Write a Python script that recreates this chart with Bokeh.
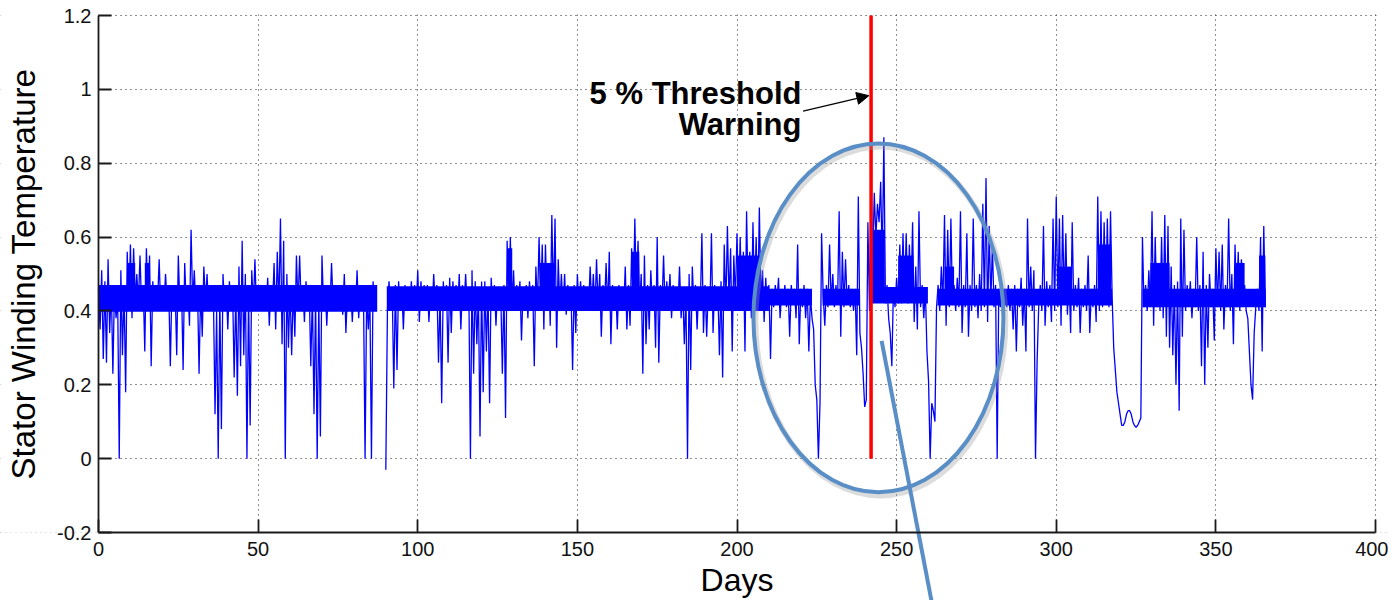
import math
from bokeh.plotting import figure
from bokeh.models import FixedTicker, Arrow, NormalHead, Label, Range1d, ColumnDataSource
from bokeh.embed import file_html
from bokeh.resources import INLINE

nan = float("nan")

# twice-daily readings (day d and day d + 0.5)
days = list(range(366))
temp_00h = [
    .46, .51, .48, .54, .47, .46, .44, .51, .46, .56,
    .58, .57, .50, .55, .47, .57, .55, .48, .47, .54,
    .47, .50, .46, .47, .46, .55, .47, .53, .47, .62,
    .51, .47, .46, .52, .50, .45, .44, .40, .44, .50,
    .47, .48, .46, .45, .52, .59, .50, .45, .51, .54,
    .47, .46, .47, .49, .47, .53, .56, .65, .59, .50,
    .47, .46, .55, .55, .47, .48, .46, .45, .44, .43,
    .55, .47, .46, .53, .47, .46, .47, .50, .46, .47,
    .46, .51, .46, .45, .45, .44, .48, .46, nan, nan,
    -.03, .48, .46, .47, .48, .46, .47, .46, .48, .47,
    .51, .48, .47, .47, .46, .50, .47, .44, .48, .47,
    .49, .48, .47, .50, .47, .50, .46, .51, .48, .45,
    .48, .48, .46, .49, .47, .46, .45, .47, .59, .60,
    .51, .47, .48, .46, .47, .48, .47, .52, .60, .58,
    .58, .53, .66, .65, .54, .50, .50, .47, .46, .47,
    .50, .48, .47, .46, .52, .50, .54, .50, .47, .53,
    .56, .47, .46, .47, .46, .52, .47, .57, .65, .59,
    .50, .55, .47, .51, .47, .60, .47, .55, .48, .50,
    .47, .46, .52, .46, .45, .50, .52, .47, .46, .61,
    .47, .46, .61, .47, .46, .48, .58, .63, .57, .55,
    .61, .60, .56, .67, .56, .64, .60, .68, .51, .49,
    .47, .46, .47, .49, .46, .47, .46, .47, .46, .58,
    .46, .47, .46, .44, .35, .16, .15, .44, .47, .58,
    .50, .47, .67, .56, .54, .47, .46, .46, .71, .30,
    .14, .64, .74, .72, .69, .75, .87, .47, .34, .46,
    .49, .58, .61, .61, .58, .64, .52, .67, .47, .46,
    .21, .15, .10, .47, .52, .66, .62, .65, .47, .49,
    .67, .47, .61, .47, .65, .47, .50, .69, .76, .63,
    .58, .47, .46, .47, .46, .47, .46, .47, .46, .49,
    .46, .65, .52, .51, .26, .47, .63, .48, .47, .65,
    .71, .65, .66, .61, .50, .64, .47, .49, .46, .47,
    .55, .46, .47, .71, .67, .64, .65, .67, .30, .18,
    .12, .09, .12, .13, .10, .085, .10, .60, .47, .51,
    .67, .60, .53, .60, .66, .63, .52, .47, .48, .65,
    .62, .47, .48, .46, .60, .47, .56, .47, .50, .46,
    .57, .56, .58, .47, .65, .50, .58, .56, .54, .47,
    .38, .20, .34, .46, .60, .63,
]
temp_12h = [
    .35, .27, .26, .34, .23, .38, .00, .28, .18, .41,
    .38, .43, .42, .41, .29, .42, .25, .41, .42, .40,
    .41, .42, .25, .41, .28, .41, .24, .41, .36, .42,
    .41, .23, .33, .42, .40, .40, .12, .00, .08, .40,
    .35, .41, .22, .17, .25, .28, .00, .09, .41, .40,
    .40, .41, .40, .36, .41, .35, .41, .31, .00, .30,
    .28, .33, .41, .41, .37, .41, .25, .12, .00, .06,
    .41, .36, .41, .41, .40, .41, .39, .34, .40, .37,
    .40, .38, .41, .00, .35, .00, .41, nan, nan, nan,
    .40, .41, .19, .24, .40, .35, .40, .41, .40, .40,
    .37, .41, .40, .37, .40, .41, .26, .15, .41, .26,
    .34, .41, .40, .35, .41, .41, .00, .23, .31, .06,
    .18, .29, .15, .41, .36, .41, .23, .11, .41, .42,
    .40, .41, .32, .41, .38, .41, .25, .41, .42, .35,
    .42, .36, .42, .30, .41, .40, .39, .41, .24, .34,
    .41, .40, .41, .40, .41, .40, .41, .33, .41, .40,
    .31, .40, .35, .41, .40, .35, .36, .41, .42, .41,
    .23, .31, .35, .41, .30, .26, .41, .40, .41, .38,
    .40, .41, .38, .31, .00, .24, .41, .35, .41, .34,
    .33, .40, .34, .40, .28, .22, .41, .42, .29, .43,
    .42, .41, .29, .43, .38, .42, .40, .43, .37, .40,
    .27, .41, .42, .38, .42, .41, .33, .42, .38, .31,
    .41, .38, .29, .38, .20, .00, .61, .36, .41, .42,
    .41, .42, .33, .41, .42, .41, .40, .28, .34, .23,
    .16, .40, .53, .60, .64, .53, .42, .38, .25, .41,
    .42, .42, .43, .42, .43, .37, .35, .41, .38, .29,
    .00, .13, .41, .40, .42, .36, .41, .42, .40, .41,
    .34, .41, .33, .40, .41, .38, .40, .41, .37, .42,
    .41, .00, .41, .40, .41, .40, .35, .29, .41, .36,
    .29, .41, .40, .00, .41, .40, .36, .41, .37, .40,
    .41, .36, .42, .39, .34, .40, .41, .34, .41, .40,
    .34, .41, .37, .40, .41, .42, .41, .44, .24, .15,
    .09, .10, .13, .12, .09, .09, .11, .41, .40, .41,
    .36, .41, .40, .38, .33, .30, .28, .20, .13, .33,
    .40, .41, .38, .41, .40, .25, .20, .30, .41, .32,
    .41, .40, .35, .41, .40, .31, .41, .40, .43, .40,
    .29, .16, .41, .40, .29, .41,
]

# dense hourly fluctuation band (start day, end day, low, high)
band_start = [0.0, 90.3, 210.0, 226.8, 241.5, 262.8, 327.0,
              9.0, 14.5, 128.2, 138.2, 167.0, 200.0, 242.2, 250.5, 265.0,
              300.7, 313.0, 329.5, 356.0, 363.5]
band_end = [87.3, 210.0, 223.5, 238.5, 259.8, 317.5, 365.6,
            11.5, 16.0, 129.6, 143.0, 169.4, 207.5, 246.3, 255.2, 268.0,
            305.0, 317.2, 335.5, 359.0, 365.5]
band_lo = [.398, .40, .415, .415, .42, .415, .41,
           .42, .42, .45, .43, .44, .42, .45, .43, .42,
           .42, .42, .42, .45, .42]
band_hi = [.47, .467, .46, .46, .465, .46, .46,
           .53, .53, .57, .53, .56, .55, .62, .55, .52,
           .52, .58, .53, .53, .55]

x_ticks = [0, 50, 100, 150, 200, 250, 300, 350, 400]
y_ticks = [-0.2, 0, 0.2, 0.4, 0.6, 0.8, 1.0, 1.2]
y_tick_labels = ["-0.2", "0", "0.2", "0.4", "0.6", "0.8", "1", "1.2"]

warning_day = 242
warning_span = [0.0, 1.2]
warning_text = ["5 % Threshold", "Warning"]

xs, ys = [], []
for d, a, b in zip(days, temp_00h, temp_12h):
    xs += [d, d + 0.5]
    ys += [a, b]

FONT = "Liberation Sans"
W, H = 1388, 600
X0PX, X400PX, Y12PX = 98, 1375, 15
ppd = (X400PX - X0PX) / 400.0          # pixels per day
ppu = 517 / 1.4                         # pixels per unit
x_lo, x_hi = -X0PX / ppd, (W - X0PX) / ppd
y_hi, y_lo = 1.2 + Y12PX / ppu, 1.2 - (H - Y12PX) / ppu

p = figure(width=W, height=H, x_range=Range1d(x_lo, x_hi), y_range=Range1d(y_lo, y_hi),
           output_backend="svg", toolbar_location=None,
           min_border_left=0, min_border_right=0, min_border_top=0, min_border_bottom=0)
p.outline_line_color = None
p.background_fill_color = "white"
p.border_fill_color = "white"

for ax in (p.xaxis, p.yaxis):
    ax.axis_line_color = "#1a1a1a"
    ax.axis_line_width = 1.8
    ax.major_tick_in = 13
    ax.major_tick_out = 0
    ax.major_tick_line_color = "#1a1a1a"
    ax.major_tick_line_width = 1.8
    ax.minor_tick_line_color = None
    ax.major_label_text_font = FONT
    ax.major_label_text_font_size = "20px"
    ax.major_label_text_color = "#111111"
    ax.axis_label_text_font = FONT
    ax.axis_label_text_font_style = "normal"
    ax.axis_label_text_color = "black"

p.xaxis.fixed_location = -0.2
p.xaxis.bounds = (0, 400)
p.xaxis.ticker = FixedTicker(ticks=x_ticks)
p.xaxis.major_label_standoff = 9
p.xaxis.axis_label = "Days"
p.xaxis.axis_label_text_font_size = "32px"
p.xaxis.axis_label_standoff = 3

p.yaxis.fixed_location = 0
p.yaxis.bounds = (-0.2, 1.2)
p.yaxis.ticker = FixedTicker(ticks=y_ticks)
p.yaxis.major_label_overrides = {t: s for t, s in zip(y_ticks, y_tick_labels)}
p.yaxis.major_label_standoff = 7
p.yaxis.axis_label = "Stator Winding Temperature"
p.yaxis.axis_label_text_font_size = "33px"
p.yaxis.axis_label_standoff = 12

p.xgrid.ticker = FixedTicker(ticks=x_ticks)
p.ygrid.ticker = FixedTicker(ticks=y_ticks)
for g in (p.xgrid, p.ygrid):
    g.grid_line_color = "#222222"
    g.grid_line_dash = "1 4"
    g.grid_line_width = 1

# blank everything outside the axes box (grid lines span the whole frame)
p.quad(left=[x_lo, x_lo, x_lo, 400.35], right=[x_hi, x_hi, -0.05, x_hi],
       bottom=[y_lo, 1.2035, -0.2, -0.2], top=[-0.2, y_hi, 1.2035, 1.2035],
       fill_color="white", line_color=None)

# data
p.quad(left=band_start, right=band_end, bottom=band_lo, top=band_hi,
       fill_color="#0000ff", line_color=None)
src = ColumnDataSource(dict(x=xs, y=ys))
p.line("x", "y", source=src, line_color="#0000ff", line_width=1.3)

# red threshold line
p.line([warning_day, warning_day], warning_span, line_color="#ff0000", line_width=3.5)

# annotation text
p.add_layout(Label(x=220.2, y=0.989, text=warning_text[0], text_align="right",
                   text_baseline="alphabetic", text_font=FONT, text_font_size="31px",
                   text_font_style="bold", text_color="black"))
p.add_layout(Label(x=220.2, y=0.905, text=warning_text[1], text_align="right",
                   text_baseline="alphabetic", text_font=FONT, text_font_size="31px",
                   text_font_style="bold", text_color="black"))
p.add_layout(Arrow(x_start=220.7, y_start=0.941, x_end=241.3, y_end=0.983,
                   line_color="black", line_width=1.2,
                   end=NormalHead(size=12, fill_color="black", line_color="black")))

# highlight ellipse + pointer
ell_color = "#5a8ec6"
p.ellipse(x=[244.9], y=[0.373], width=[78.3], height=[0.945], fill_color=None,
          line_color="#9a9a9a", line_alpha=0.35, line_width=6)
p.ellipse(x=[244.3], y=[0.381], width=[78.3], height=[0.945], fill_color=None,
          line_color=ell_color, line_width=4)
p.line([245.3, 260.9], [0.319, y_lo], line_color=ell_color, line_width=4)

open("out.html", "w").write(file_html(p, INLINE))
